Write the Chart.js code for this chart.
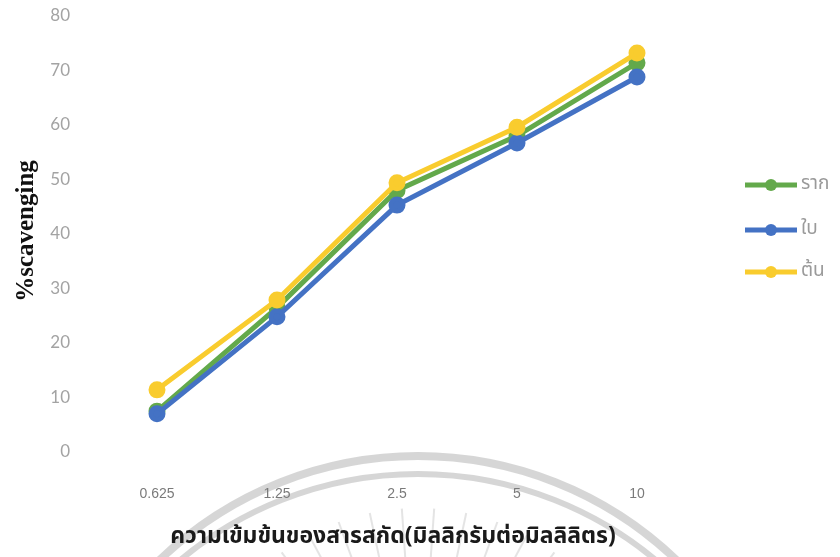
<!DOCTYPE html>
<html>
<head>
<meta charset="utf-8">
<script src="https://cdn.jsdelivr.net/npm/chart.js@4.4.1/dist/chart.umd.min.js"></script>
<style>
    html, body { margin: 0; padding: 0; background: #fff; }
    #wrap { width: 840px; height: 557px; position: relative; }
</style>
</head>
<body>
<div id="wrap"><canvas id="scavengingChart"></canvas></div>
<script>
// concentration of extract (mg/ml)
const concentrations = ['0.625', '1.25', '2.5', '5', '10'];
const yTicks = [0, 10, 20, 30, 40, 50, 60, 70, 80];

// %scavenging per plant part
const rootValues = [7.5, 26.5, 48.0, 58.0, 71.4];
const leafValues = [7.0, 24.8, 45.3, 56.7, 68.8];
const stemValues = [11.4, 27.9, 49.4, 59.6, 73.2];

const seriesNames = ['ราก', 'ใบ', 'ต้น'];
const seriesColors = ['#63a94b', '#4472c4', '#f9cc2e'];

const xTitle = 'ความเข้มข้นของสารสกัด(มิลลิกรัมต่อมิลลิลิตร)';
const yTitle = '%scavenging';

const thaiFont = '"Noto Sans Thai", "Noto Sans Thai Looped", "Loma", "Garuda", "Tlwg Typist", sans-serif';

function makeDataset(idx, values, order) {
    return {
        label: seriesNames[idx],
        data: values,
        borderColor: seriesColors[idx],
        backgroundColor: seriesColors[idx],
        pointBackgroundColor: seriesColors[idx],
        pointBorderColor: seriesColors[idx],
        borderWidth: 5,
        pointRadius: 6,
        pointHoverRadius: 6,
        tension: 0,
        order: order
    };
}

// faint seal printed behind the page
const sealPlugin = {
    id: 'seal',
    beforeDraw(chart) {
        const ctx = chart.ctx;
        ctx.save();
        ctx.strokeStyle = 'rgba(200,200,200,0.75)';
        ctx.lineWidth = 8;
        ctx.beginPath();
        ctx.arc(418, 829, 373, 0, Math.PI * 2);
        ctx.stroke();
        ctx.lineWidth = 6;
        ctx.beginPath();
        ctx.arc(418, 845, 371, 0, Math.PI * 2);
        ctx.stroke();
        ctx.lineWidth = 2;
        ctx.strokeStyle = 'rgba(205,205,205,0.55)';
        for (let a = -126; a <= -54; a += 8) {
            const r = a * Math.PI / 180;
            ctx.beginPath();
            ctx.moveTo(418 + Math.cos(r) * 180, 740 + Math.sin(r) * 180);
            ctx.lineTo(418 + Math.cos(r) * 232, 740 + Math.sin(r) * 232);
            ctx.stroke();
        }
        ctx.restore();
    }
};

// axis titles and the legend on the right
const labelsPlugin = {
    id: 'labels',
    afterDraw(chart) {
        const ctx = chart.ctx;
        ctx.save();

        ctx.fillStyle = '#111';
        ctx.font = 'bold 25px "Liberation Serif", "Times New Roman", serif';
        ctx.textAlign = 'center';
        ctx.textBaseline = 'middle';
        ctx.translate(27, 231);
        ctx.rotate(-Math.PI / 2);
        ctx.fillText(yTitle, 0, 0);
        ctx.setTransform(1, 0, 0, 1, 0, 0);

        ctx.font = 'bold 23px ' + thaiFont;
        ctx.fillStyle = '#1a1a1a';
        ctx.fillText(xTitle, 393, 538);

        const rows = [185, 230, 272];
        rows.forEach((y, i) => {
            ctx.strokeStyle = seriesColors[i];
            ctx.fillStyle = seriesColors[i];
            ctx.lineWidth = 5;
            ctx.beginPath();
            ctx.moveTo(745, y);
            ctx.lineTo(797, y);
            ctx.stroke();
            ctx.beginPath();
            ctx.arc(771, y, 6, 0, Math.PI * 2);
            ctx.fill();
            ctx.fillStyle = '#9a9a9a';
            ctx.font = '19px ' + thaiFont;
            ctx.textAlign = 'left';
            ctx.fillText(seriesNames[i], 801, y);
        });
        ctx.restore();
    }
};

new Chart(document.getElementById('scavengingChart'), {
    type: 'line',
    data: {
        labels: concentrations,
        datasets: [
            makeDataset(0, rootValues, 2),
            makeDataset(1, leafValues, 1),
            makeDataset(2, stemValues, 0)
        ]
    },
    options: {
        responsive: true,
        maintainAspectRatio: false,
        animation: false,
        layout: {
            padding: { top: 16, right: 143, bottom: 0, left: 0 }
        },
        plugins: {
            legend: { display: false },
            tooltip: { enabled: false }
        },
        scales: {
            x: {
                offset: true,
                grid: { display: false },
                border: { display: false },
                ticks: {
                    color: '#7a7a7a',
                    padding: 26,
                    font: { family: '"Liberation Sans", Arial, sans-serif', size: 14 }
                },
                afterFit(scale) {
                    scale.height = 105;
                    scale.paddingLeft = 0;
                    scale.paddingRight = 0;
                }
            },
            y: {
                min: yTicks[0],
                max: yTicks[yTicks.length - 1],
                grid: { display: false },
                border: { display: false },
                afterBuildTicks(scale) {
                    scale.ticks = yTicks.map(v => ({ value: v }));
                },
                ticks: {
                    color: '#a3a3a3',
                    padding: 19,
                    font: { family: 'Lato, "Open Sans", sans-serif', size: 17 }
                },
                afterFit(scale) {
                    scale.width = 97;
                    scale.paddingTop = 0;
                    scale.paddingBottom = 0;
                }
            }
        }
    },
    plugins: [sealPlugin, labelsPlugin]
});
</script>
</body>
</html>
